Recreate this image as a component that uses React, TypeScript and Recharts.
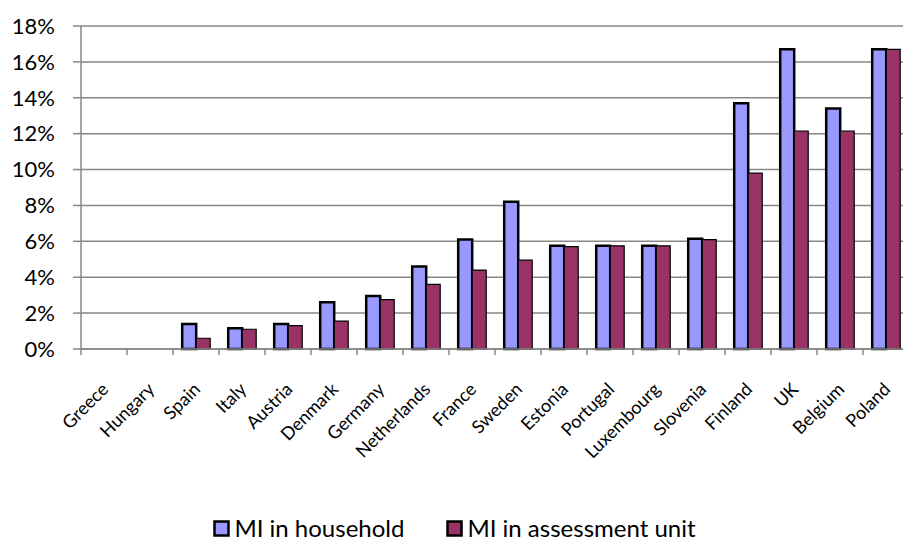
import React from 'react';
import { BarChart, Bar, XAxis, YAxis, CartesianGrid, Legend } from 'recharts';

const countries = [
  'Greece', 'Hungary', 'Spain', 'Italy', 'Austria', 'Denmark', 'Germany', 'Netherlands', 'France',
  'Sweden', 'Estonia', 'Portugal', 'Luxembourg', 'Slovenia', 'Finland', 'UK', 'Belgium', 'Poland',
];
const household = [0, 0, 1.4, 1.15, 1.4, 2.6, 2.95, 4.6, 6.1, 8.2, 5.75, 5.75, 5.75, 6.15, 13.7, 16.7, 13.4, 16.7];
const assessment = [0, 0, 0.6, 1.1, 1.3, 1.55, 2.75, 3.6, 4.4, 4.95, 5.7, 5.75, 5.75, 6.1, 9.8, 12.15, 12.15, 16.7];
const yTicks = [0, 2, 4, 6, 8, 10, 12, 14, 16, 18];

const data = countries.map((name, i) => ({ name, household: household[i], assessment: assessment[i] }));

const FONT = 'Lato, "Open Sans", sans-serif';
const GRID = '#878787';
const BLUE = '#9999FF';
const PLUM = '#993366';

// category label, rotated 45°, plus a small tick at the left edge of the band
const CountryTick = (props: any) => {
  const { x, y, payload } = props;
  const half = payload?.offset ?? 23;
  const ax = x + 1;
  const ay = y + 29;
  return (
    <g>
      <line x1={x - half} x2={x - half} y1={y - 8} y2={y - 2} stroke={GRID} strokeWidth={1.5} />
      <text
        x={ax}
        y={ay}
        transform={`rotate(-45 ${ax} ${ay})`}
        textAnchor="end"
        dy="0.35em"
        fontSize={18}
        fontFamily={FONT}
        fill="#000"
      >
        {payload.value}
      </text>
    </g>
  );
};

const LegendBox = () => (
  <div
    style={{
      display: 'flex',
      justifyContent: 'center',
      gap: 42,
      paddingTop: 12,
      fontFamily: FONT,
      fontSize: 24,
      color: '#000',
      lineHeight: '24px',
    }}
  >
    {[
      { label: 'MI in household', color: BLUE },
      { label: 'MI in assessment unit', color: PLUM },
    ].map((it) => (
      <div key={it.label} style={{ display: 'flex', alignItems: 'center' }}>
        <svg width={19} height={17} style={{ marginRight: 2 }}>
          <rect x={1.5} y={1.5} width={14} height={14} fill={it.color} stroke="#000" strokeWidth={2.5} />
        </svg>
        <span>{it.label}</span>
      </div>
    ))}
  </div>
);

export default function App() {
  return (
    <div style={{ position: 'absolute', left: 0, top: 0, width: 903, height: 542, overflow: 'hidden', background: '#fff' }}>
      <BarChart
        width={912}
        height={542}
        data={data}
        margin={{ top: 26, right: 3, bottom: 0, left: 0 }}
        barCategoryGap="20%"
        barGap={0}
      >
        <CartesianGrid vertical={false} stroke={GRID} strokeWidth={1.5} />
        <XAxis
          dataKey="name"
          height={155}
          interval={0}
          axisLine={{ stroke: GRID, strokeWidth: 1.5 }}
          tickLine={false}
          tick={<CountryTick />}
        />
        <YAxis
          width={81}
          domain={[0, 18]}
          ticks={yTicks}
          interval={0}
          tickFormatter={(v) => `${v}%`}
          axisLine={{ stroke: GRID, strokeWidth: 1.5 }}
          tickLine={{ stroke: GRID, strokeWidth: 1.5 }}
          tickSize={8}
          tickMargin={18}
          tick={{ fill: '#000', fontSize: 22, fontFamily: FONT }}
        />
        <Legend verticalAlign="bottom" height={38} content={<LegendBox />} />
        <Bar dataKey="household" name="MI in household" fill={BLUE} stroke="#000" strokeWidth={2.5} isAnimationActive={false} />
        <Bar dataKey="assessment" name="MI in assessment unit" fill={PLUM} stroke="#000" strokeWidth={1.2} isAnimationActive={false} />
      </BarChart>
    </div>
  );
}
